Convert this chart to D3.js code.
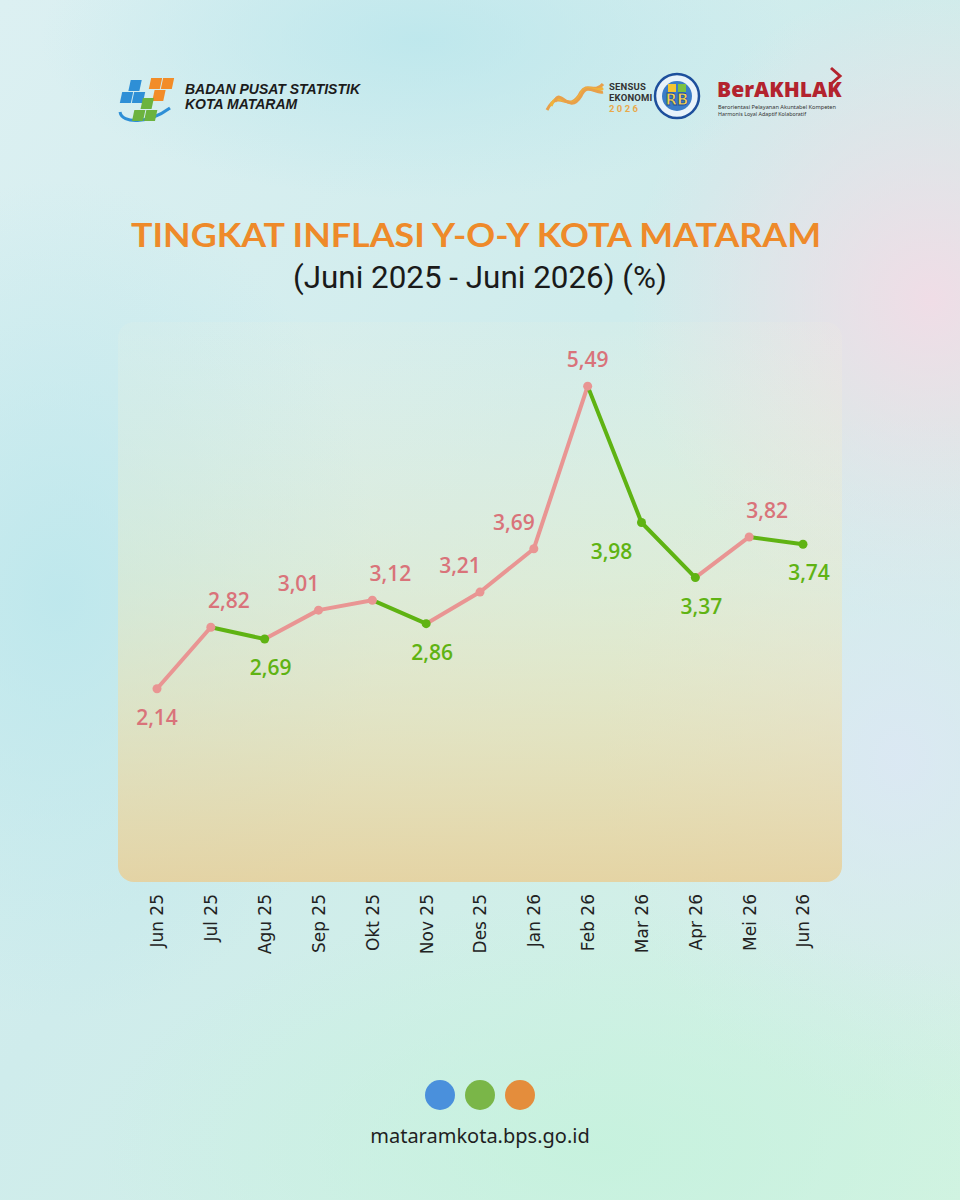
<!DOCTYPE html>
<html lang="id">
<head>
  <meta charset="UTF-8">
  <title>Tingkat Inflasi Y-o-Y Kota Mataram</title>
  <script src="https://d3js.org/d3.v7.min.js"></script>
  <style>
    html, body { margin: 0; padding: 0; }
    body { width: 960px; height: 1200px; overflow: hidden; }
    svg { display: block; }
  </style>
</head>
<body>
  <svg id="chart" width="960" height="1200"></svg>

  <script>
    // Data
    const months = ['Jun 25', 'Jul 25', 'Agu 25', 'Sep 25', 'Okt 25', 'Nov 25', 'Des 25',
                    'Jan 26', 'Feb 26', 'Mar 26', 'Apr 26', 'Mei 26', 'Jun 26'];
    const inflasi = [2.14, 2.82, 2.69, 3.01, 3.12, 2.86, 3.21, 3.69, 5.49, 3.98, 3.37, 3.82, 3.74];
    const yDomain = [0, 6.2];

    const title = 'TINGKAT INFLASI Y-O-Y KOTA MATARAM';
    const subtitle = '(Juni 2025 - Juni 2026) (%)';
    const website = 'mataramkota.bps.go.id';
    const footerDots = ['#4a90dc', '#7ab648', '#e48d3c'];

    const width = 960, height = 1200;
    const panel = { x: 118, y: 322, w: 724, h: 560 };
    const pink = '#e99593', pinkText = '#d9737a', green = '#5fb313';

    const fmt = d3.formatLocale({ decimal: ',', thousands: '.', grouping: [3], currency: ['', ''] }).format('.2f');

    const svg = d3.select('#chart');
    const defs = svg.append('defs');

    // Background gradients
    const bg = defs.append('linearGradient').attr('id', 'bg')
      .attr('x1', 0).attr('y1', 0).attr('x2', 1).attr('y2', 1);
    bg.append('stop').attr('offset', 0).attr('stop-color', '#dcf0f2');
    bg.append('stop').attr('offset', 0.45).attr('stop-color', '#cfecec');
    bg.append('stop').attr('offset', 1).attr('stop-color', '#d3f3e2');

    function blob(id, color, op) {
      const g = defs.append('radialGradient').attr('id', id);
      g.append('stop').attr('offset', 0).attr('stop-color', color).attr('stop-opacity', op);
      g.append('stop').attr('offset', 1).attr('stop-color', color).attr('stop-opacity', 0);
    }
    blob('pinkBlob', '#f3dbe6', 0.9);
    blob('cyanBlob', '#b9e6ec', 0.8);
    blob('blueBlob', '#dde6f6', 0.8);
    blob('mintBlob', '#c4f2dc', 0.8);

    svg.append('rect').attr('width', width).attr('height', height).attr('fill', 'url(#bg)');
    svg.append('ellipse').attr('cx', 930).attr('cy', 300).attr('rx', 300).attr('ry', 320).attr('fill', 'url(#pinkBlob)');
    svg.append('ellipse').attr('cx', 60).attr('cy', 600).attr('rx', 320).attr('ry', 420).attr('fill', 'url(#cyanBlob)');
    svg.append('ellipse').attr('cx', 900).attr('cy', 760).attr('rx', 300).attr('ry', 350).attr('fill', 'url(#blueBlob)');
    svg.append('ellipse').attr('cx', 600).attr('cy', 1150).attr('rx', 500).attr('ry', 250).attr('fill', 'url(#mintBlob)');
    svg.append('ellipse').attr('cx', 420).attr('cy', 40).attr('rx', 380).attr('ry', 160).attr('fill', 'url(#cyanBlob)');

    // Chart panel
    const pg = defs.append('linearGradient').attr('id', 'panelFill')
      .attr('x1', 0).attr('y1', 0).attr('x2', 0).attr('y2', 1);
    pg.append('stop').attr('offset', 0).attr('stop-color', '#fff4d8').attr('stop-opacity', 0.08);
    pg.append('stop').attr('offset', 0.45).attr('stop-color', '#f4eab8').attr('stop-opacity', 0.35);
    pg.append('stop').attr('offset', 1).attr('stop-color', '#e8cf98').attr('stop-opacity', 0.85);
    svg.append('rect')
      .attr('x', panel.x).attr('y', panel.y).attr('width', panel.w).attr('height', panel.h)
      .attr('rx', 16).attr('fill', 'url(#panelFill)');

    // Header: BPS logo
    const logo = svg.append('g').attr('transform', 'translate(118,74)');
    logo.append('path').attr('d', 'M2,38 C4,50 30,50 52,34').attr('fill', 'none')
      .attr('stroke', '#2e8fd6').attr('stroke-width', 3);
    const tile = (x, y, c) => logo.append('rect').attr('x', x).attr('y', y).attr('width', 11).attr('height', 11)
      .attr('fill', c).attr('transform', `skewX(-12)`);
    tile(14, 6, '#2e8fd6'); tile(8, 18, '#2e8fd6'); tile(20, 18, '#2e8fd6');
    tile(34, 4, '#f28c28'); tile(46, 4, '#f28c28'); tile(40, 16, '#f28c28');
    tile(30, 24, '#6cb33f'); tile(24, 36, '#6cb33f'); tile(36, 36, '#6cb33f');
    svg.append('text').attr('x', 185).attr('y', 94)
      .attr('font-family', 'Liberation Sans, Arial, sans-serif').attr('font-weight', 700)
      .attr('font-style', 'italic').attr('font-size', 14).attr('fill', '#1b1b1b')
      .text('BADAN PUSAT STATISTIK');
    svg.append('text').attr('x', 185).attr('y', 109)
      .attr('font-family', 'Liberation Sans, Arial, sans-serif').attr('font-weight', 700)
      .attr('font-style', 'italic').attr('font-size', 14).attr('fill', '#1b1b1b')
      .text('KOTA MATARAM');

    // Header: Sensus Ekonomi logo
    const se = svg.append('g').attr('transform', 'translate(545,78)');
    [0, 4, 8].forEach(o => {
      se.append('path').attr('d', `M${2 + o},${32 - o} C14,8 24,38 36,${14 + o / 2} C42,4 50,16 58,${6 + o}`)
        .attr('fill', 'none').attr('stroke', o === 4 ? '#f0b43a' : '#e8a04a').attr('stroke-width', 3);
    });
    se.selectAll('text.se').data(['SENSUS', 'EKONOMI', '2026']).join('text')
      .attr('x', 64).attr('y', (d, i) => 12 + i * 11)
      .attr('font-family', 'Roboto, sans-serif').attr('font-weight', 700).attr('font-size', 9.5)
      .attr('letter-spacing', (d, i) => i === 2 ? 2.4 : 0.2)
      .attr('fill', (d, i) => i === 2 ? '#e9a94a' : '#333').text(d => d);

    // Header: RB badge
    const rb = svg.append('g').attr('transform', 'translate(677,96)');
    rb.append('circle').attr('r', 22).attr('fill', '#e8f3fb').attr('stroke', '#1d4f9c').attr('stroke-width', 2.5);
    rb.append('circle').attr('r', 15).attr('fill', '#3a7cc8');
    rb.append('rect').attr('x', -9).attr('y', -12).attr('width', 8).attr('height', 8).attr('fill', '#f4c531');
    rb.append('rect').attr('x', 1).attr('y', -12).attr('width', 8).attr('height', 8).attr('fill', '#7bc043');
    rb.append('text').attr('x', 0).attr('y', 9).attr('text-anchor', 'middle')
      .attr('font-family', 'DejaVu Sans, sans-serif').attr('font-weight', 700).attr('font-size', 15)
      .attr('fill', '#f6d24a').attr('stroke', '#1d4f9c').attr('stroke-width', 0.8).text('RB');

    // Header: BerAKHLAK
    svg.append('text').attr('x', 717).attr('y', 97)
      .attr('font-family', 'Open Sans, sans-serif').attr('font-weight', 800).attr('font-size', 21)
      .attr('fill', '#b3232e').text('BerAKHLAK');
    svg.append('path').attr('d', 'M831,68 L840,76 L831,84').attr('fill', 'none')
      .attr('stroke', '#b3232e').attr('stroke-width', 3);
    svg.append('text').attr('x', 718).attr('y', 109)
      .attr('font-family', 'Noto Sans, sans-serif').attr('font-size', 6).attr('fill', '#333')
      .attr('textLength', 118).attr('lengthAdjust', 'spacingAndGlyphs')
      .text('Berorientasi Pelayanan Akuntabel Kompeten');
    svg.append('text').attr('x', 718).attr('y', 116)
      .attr('font-family', 'Noto Sans, sans-serif').attr('font-size', 6).attr('fill', '#333')
      .attr('textLength', 88).attr('lengthAdjust', 'spacingAndGlyphs')
      .text('Harmonis Loyal Adaptif Kolaboratif');

    // Titles
    svg.append('text').attr('x', 476).attr('y', 247).attr('text-anchor', 'middle')
      .attr('font-family', 'Lato, sans-serif').attr('font-weight', 700).attr('font-size', 33)
      .attr('textLength', 690).attr('lengthAdjust', 'spacingAndGlyphs')
      .attr('fill', '#ee8a2a').text(title);
    svg.append('text').attr('x', 480).attr('y', 288).attr('text-anchor', 'middle')
      .attr('font-family', 'Roboto, sans-serif').attr('font-size', 31)
      .attr('textLength', 374).attr('lengthAdjust', 'spacingAndGlyphs')
      .attr('fill', '#1a1a1a').text(subtitle);

    // Scales
    const x = d3.scalePoint().domain(months).range([157, 803]);
    const y = d3.scaleLinear().domain(yDomain).range([panel.y + panel.h, panel.y]);

    // X axis (rotated labels, no line)
    const xAxis = svg.append('g')
      .attr('transform', `translate(0,${panel.y + panel.h + 12})`)
      .call(d3.axisBottom(x).tickSize(0).tickPadding(0));
    xAxis.select('.domain').remove();
    xAxis.selectAll('text')
      .attr('font-family', 'DejaVu Sans, sans-serif').attr('font-size', 17).attr('fill', '#222')
      .attr('text-anchor', 'end').attr('dy', '0.35em')
      .attr('transform', 'rotate(-90)').attr('x', 0).attr('y', 0);

    // Line segments coloured by direction
    const pts = months.map((m, i) => ({ m, v: inflasi[i], i }));
    const segs = d3.pairs(pts);
    svg.append('g').selectAll('line').data(segs).join('line')
      .attr('x1', d => x(d[0].m)).attr('y1', d => y(d[0].v))
      .attr('x2', d => x(d[1].m)).attr('y2', d => y(d[1].v))
      .attr('stroke', d => d[1].v >= d[0].v ? pink : green)
      .attr('stroke-width', 4).attr('stroke-linecap', 'round');

    const rising = d => d.i === 0 || d.v >= inflasi[d.i - 1];
    svg.append('g').selectAll('circle').data(pts).join('circle')
      .attr('cx', d => x(d.m)).attr('cy', d => y(d.v)).attr('r', 4.5)
      .attr('fill', d => rising(d) ? pink : green);

    // Value labels
    const labelAbove = d => d.i > 0 && rising(d);
    const labelDx = d => {
      const next = inflasi[d.i + 1];
      if (labelAbove(d)) {
        if (next === undefined) return 0;
        if (next >= d.v) return -20;
        return d.v - next > 1 ? 0 : 18;
      }
      if (next !== undefined && next < d.v) return -30;
      return d.i === 0 ? 0 : 6;
    };
    svg.append('g').selectAll('text').data(pts).join('text')
      .attr('x', d => x(d.m) + labelDx(d))
      .attr('y', d => y(d.v) + (labelAbove(d) ? -19 : 36))
      .attr('text-anchor', 'middle')
      .attr('font-family', 'Open Sans, sans-serif').attr('font-weight', 600).attr('font-size', 21)
      .attr('fill', d => rising(d) ? pinkText : green)
      .text(d => fmt(d.v));

    // Footer
    svg.append('g').selectAll('circle').data(footerDots).join('circle')
      .attr('cx', (d, i) => 440 + i * 40).attr('cy', 1095).attr('r', 15).attr('fill', d => d);
    svg.append('text').attr('x', 480).attr('y', 1143).attr('text-anchor', 'middle')
      .attr('font-family', 'Noto Sans, sans-serif').attr('font-size', 20).attr('fill', '#1f1f1f')
      .text(website);
  </script>
</body>
</html>
